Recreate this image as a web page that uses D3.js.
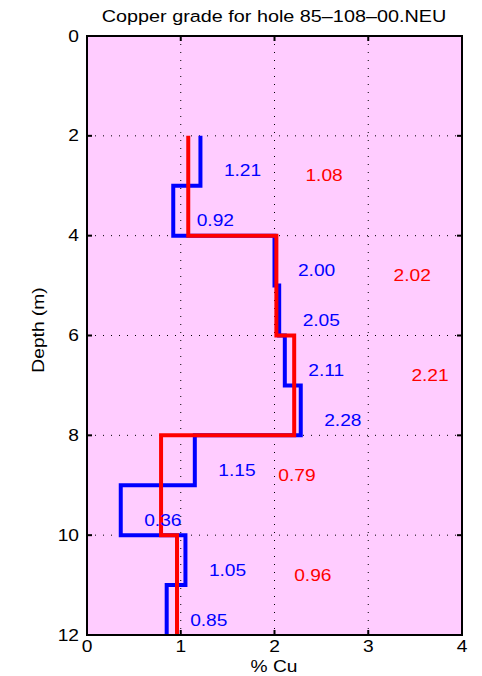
<!DOCTYPE html>
<html><head><meta charset="utf-8">
<script src="https://cdn.jsdelivr.net/npm/d3@7"></script>
<style>body{margin:0;background:#fff}svg{display:block;font-family:"Liberation Sans",Arial,sans-serif}</style>
</head><body><svg id="c" width="482" height="676"></svg>
<script>
const title = "Copper grade for hole 85–108–00.NEU";
const blueDepths = [2,3,4,5,6,7,8,9,10,11,12];
const blueValues = [1.21,0.92,2.00,2.05,2.11,2.28,1.15,0.36,1.05,0.85];
const redDepths = [2,4,6,8,10,12];
const redValues = [1.08,2.02,2.21,0.79,0.96];
const xTicks = [0,1,2,3,4];
const yTicks = [0,2,4,6,8,10,12];

const svg = d3.select("#c");
const L=87,R=462,T=36,B=635;
const SX=1.2;
const x = d3.scaleLinear().domain([0,4]).range([L,R]);
const y = d3.scaleLinear().domain([0,12]).range([T,B]);

function txt(px,py,str,size,anchor,fill,rot){
  const g = svg.append("g").attr("transform",`translate(${px},${py})${rot?" rotate(-90)":""} scale(${SX},1)`);
  g.append("text").attr("dy","0.35em").attr("text-anchor",anchor).attr("font-size",size).attr("fill",fill||"#000").text(str);
}

svg.append("rect").attr("x",L).attr("y",T).attr("width",R-L).attr("height",B-T).attr("fill","#ffccff");

// grid
const g = svg.append("g");
xTicks.slice(1,-1).forEach(t=>g.append("line").attr("x1",x(t)).attr("x2",x(t)).attr("y1",T).attr("y2",B)
  .attr("stroke","#000").attr("stroke-width",1).attr("stroke-dasharray","1,7"));
yTicks.slice(1,-1).forEach(t=>g.append("line").attr("x1",L).attr("x2",R).attr("y1",y(t)).attr("y2",y(t))
  .attr("stroke","#000").attr("stroke-width",1).attr("stroke-dasharray","1,7"));

function stepPts(depths, vals){
  const pts=[];
  vals.forEach((v,i)=>{pts.push([v,depths[i]]);pts.push([v,depths[i+1]]);});
  return pts;
}
const line = d3.line().x(d=>x(d[0])).y(d=>y(d[1]));
svg.append("path").attr("d",line(stepPts(blueDepths,blueValues))).attr("fill","none").attr("stroke","#0000ff").attr("stroke-width",4);
svg.append("path").attr("d",line(stepPts(redDepths,redValues))).attr("fill","none").attr("stroke","#ff0000").attr("stroke-width",4);

// labels
blueValues.forEach((v,i)=>txt(x(v+0.25),y(blueDepths[i]+0.7),v.toFixed(2),16,"start","#0000ff"));
redValues.forEach((v,i)=>txt(x(v+1.25),y(redDepths[i]+0.8),v.toFixed(2),16,"start","#ff0000"));

// axes box and ticks
const ax = svg.append("g");
ax.append("rect").attr("x",L).attr("y",T).attr("width",R-L).attr("height",B-T).attr("fill","none").attr("stroke","#000").attr("stroke-width",2);
xTicks.forEach(t=>{
  ax.append("line").attr("x1",x(t)).attr("x2",x(t)).attr("y1",B).attr("y2",B-5).attr("stroke","#000").attr("stroke-width",2);
  ax.append("line").attr("x1",x(t)).attr("x2",x(t)).attr("y1",T).attr("y2",T+5).attr("stroke","#000").attr("stroke-width",2);
  txt(x(t),646,t,16,"middle");
});
yTicks.forEach(t=>{
  ax.append("line").attr("x1",L).attr("x2",L+5).attr("y1",y(t)).attr("y2",y(t)).attr("stroke","#000").attr("stroke-width",2);
  ax.append("line").attr("x1",R).attr("x2",R-5).attr("y1",y(t)).attr("y2",y(t)).attr("stroke","#000").attr("stroke-width",2);
  txt(L-8,y(t),t,16,"end");
});
txt(274,666,"% Cu",16,"middle");
txt(38,330,"Depth (m)",16,"middle","#000",true);
txt(274,16,title,16.5,"middle");
</script></body></html>
